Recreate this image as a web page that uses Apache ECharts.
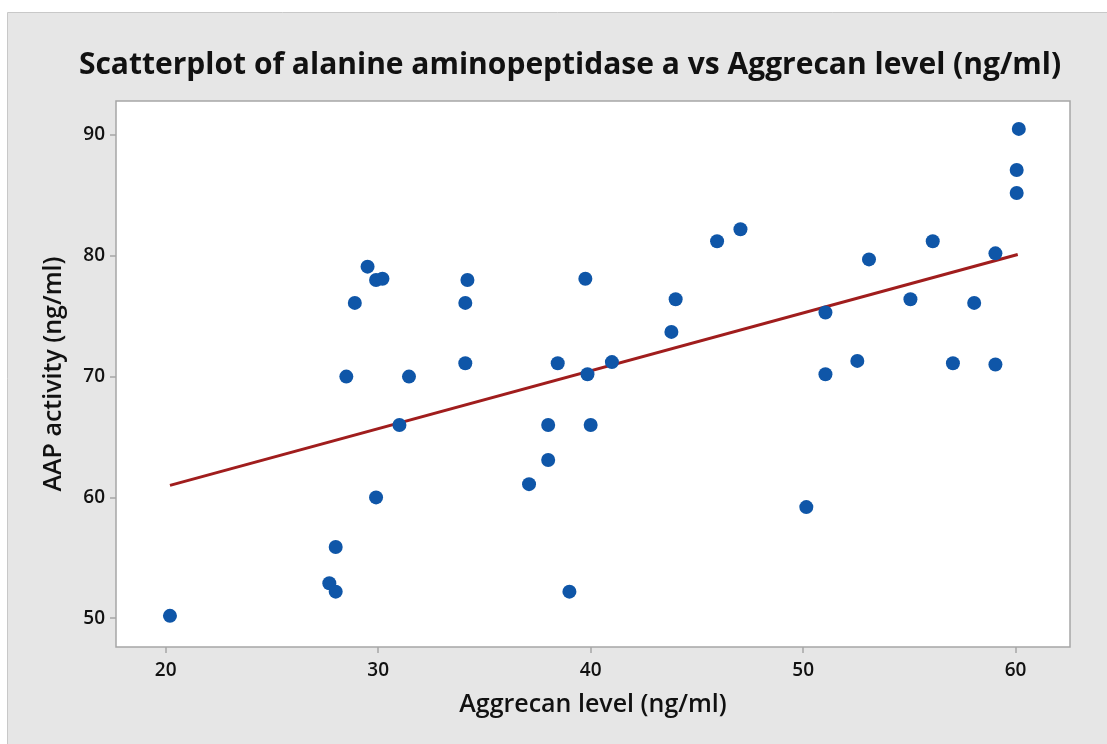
<!DOCTYPE html>
<html>
<head>
<meta charset="UTF-8">
<title>Scatterplot</title>
<script src="https://cdn.jsdelivr.net/npm/echarts@6/dist/echarts.min.js"></script>
<style>
  html, body { margin: 0; padding: 0; background: #fff; }
  #chart { width: 1107px; height: 744px; }
</style>
</head>
<body>
<div id="chart"></div>
<script>
// aggrecan level (x) and AAP activity (y)
var aggrecan = [20.2, 27.7, 28.0, 28.0, 28.5, 28.9, 29.5, 29.9, 30.2, 29.9,
                31.0, 31.45, 34.1, 34.2, 34.1, 37.1, 38.0, 38.0, 38.45, 39.0,
                39.75, 39.85, 40.0, 41.0, 43.8, 44.0, 45.95, 47.05, 50.15, 51.05,
                51.05, 52.55, 53.1, 55.05, 56.1, 57.05, 58.05, 59.05, 59.05, 60.05,
                60.05, 60.15];
var aapActivity = [50.2, 52.9, 52.2, 55.9, 70.0, 76.1, 79.1, 78.0, 78.1, 60.0,
                   66.0, 70.0, 76.1, 78.0, 71.1, 61.1, 66.0, 63.1, 71.1, 52.2,
                   78.1, 70.2, 66.0, 71.2, 73.7, 76.4, 81.2, 82.2, 59.2, 75.3,
                   70.2, 71.3, 79.7, 76.4, 81.2, 71.1, 76.1, 71.0, 80.2, 85.2,
                   87.1, 90.5];
// fitted line end points
var fitX = [20.2, 60.1];
var fitY = [61.0, 80.1];
var xTicks = [20, 30, 40, 50, 60];
var yTicks = [50, 60, 70, 80, 90];

var points = aggrecan.map(function (x, i) { return [x, aapActivity[i]]; });
var fit = fitX.map(function (x, i) { return [x, fitY[i]]; });

var myChart = echarts.init(document.getElementById('chart'));
var nameFont = { fontFamily: 'Open Sans', fontSize: 25, fontWeight: 600, color: '#111' };
myChart.setOption({
  backgroundColor: '#fff',
  animation: false,
  graphic: [{
    type: 'rect', z: -10,
    shape: { x: 7.5, y: 12.5, width: 1120, height: 760 },
    style: { fill: '#e6e6e6', stroke: '#c8c8c8', lineWidth: 1 }
  }],
  title: {
    text: 'Scatterplot of alanine aminopeptidase a vs Aggrecan level (ng/ml)',
    left: 565, top: 45, textAlign: 'center',
    textStyle: { fontFamily: 'Open Sans', fontSize: 30, fontWeight: 700, color: '#111' }
  },
  grid: {
    left: 116, top: 101, width: 954, height: 546,
    show: true, backgroundColor: '#fff', borderColor: '#a6a6a6', borderWidth: 1.5
  },
  xAxis: {
    type: 'value', min: 17.66, max: 62.56,
    name: 'Aggrecan level (ng/ml)', nameLocation: 'middle', nameGap: 45,
    nameTextStyle: nameFont,
    axisLine: { show: false },
    splitLine: { show: false },
    axisTick: { show: true, customValues: xTicks, length: 6, lineStyle: { color: '#a6a6a6', width: 1.5 } },
    axisLabel: { customValues: xTicks, margin: 14, color: '#111', fontSize: 19, fontFamily: 'Open Sans', fontWeight: 600 }
  },
  yAxis: {
    type: 'value', min: 47.62, max: 92.81,
    name: 'AAP activity (ng/ml)', nameLocation: 'middle', nameGap: 50,
    nameTextStyle: nameFont,
    axisLine: { show: false },
    splitLine: { show: false },
    axisTick: { show: true, customValues: yTicks, length: 6, lineStyle: { color: '#a6a6a6', width: 1.5 } },
    axisLabel: { customValues: yTicks, margin: 11, color: '#111', fontSize: 19, fontFamily: 'Open Sans', fontWeight: 600 }
  },
  series: [{
    type: 'line',
    data: fit,
    symbol: 'none',
    lineStyle: { color: '#a01d1d', width: 3 },
    z: 2
  }, {
    type: 'scatter',
    data: points,
    symbol: 'circle',
    symbolSize: 14,
    itemStyle: { color: '#0f56a8', opacity: 1 },
    z: 3
  }]
});
</script>
</body>
</html>
